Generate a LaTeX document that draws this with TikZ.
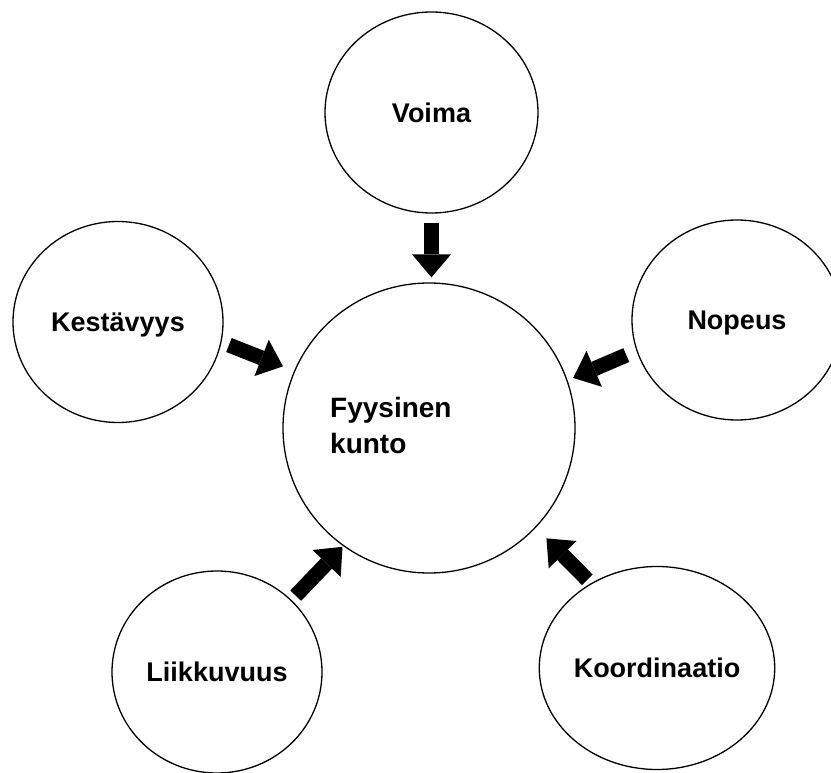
\documentclass[tikz,border=0pt]{standalone}
\usepackage{fontspec}
\setmainfont{Liberation Sans}
\usetikzlibrary{arrows.meta,shapes.geometric}

\begin{document}
\begin{tikzpicture}[x=1pt,y=-1pt,
  bubble/.style={ellipse, draw=black, line width=1.3pt, fill=white, inner sep=0pt,
    font=\fontsize{27}{32}\selectfont\bfseries, text height=19.3pt, text depth=0pt},
  centretext/.style={inner sep=0pt, font=\fontsize{28}{34}\selectfont\bfseries},
  fatarrow/.style={line width=15pt, draw=black,
    -{Triangle[width=39pt,length=23pt,line width=0pt]}}
]
\useasboundingbox (0,0) rectangle (831,773);
\fill[white] (0,0) rectangle (831,773);

% the five components around the central circle
\node[bubble, minimum width=292pt, minimum height=290pt] (fk) at (429,428) {};
\node[bubble, minimum width=213pt, minimum height=201pt] (voima)  at (431.5,112.5) {Voima};
\node[bubble, minimum width=210pt, minimum height=201pt] (kest)   at (118,322) {Kestävyys};
\node[bubble, minimum width=210pt, minimum height=200pt] (nopeus) at (737,320) {Nopeus};
\node[bubble, minimum width=210pt, minimum height=202pt] (liikk)  at (217,672) {Liikkuvuus};
\node[bubble, minimum width=211pt, minimum height=203pt] (koord)  at (657,668) {Koordinaatio};

% central label
\node[centretext, anchor=base west] (fkline1) at (330,417) {Fyysinen};
\node[centretext, anchor=base west] (fkline2) at (330,453) {kunto};

% block arrows pointing into the centre
\draw[fatarrow, shorten <=9pt, shorten >=5pt] (voima.south) -- (voima.south |- fk.north);
\draw[fatarrow, shorten <=8pt, shorten >=12pt] (kest.-11.8) -- (fk.157.7);
\draw[fatarrow, shorten <=11pt, shorten >=6pt] (nopeus.197.3) -- (fk.19.1);
\draw[fatarrow, shorten <=6pt, shorten >=1pt] (liikk.44.3) -- (fk.-126);
\draw[fatarrow, shorten <=5pt, shorten >=15pt] (koord.128.6) -- (fk.-43);
\end{tikzpicture}
\end{document}
